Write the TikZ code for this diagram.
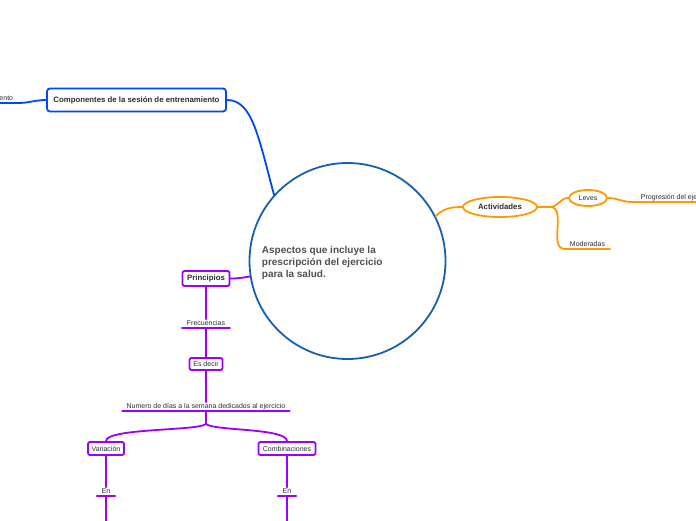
\documentclass[tikz,border=0pt]{standalone}
\usepackage{fontspec}
\setmainfont{Liberation Sans}
\usepackage{xcolor}
\usetikzlibrary{shapes.geometric}
\definecolor{azul}{RGB}{0,72,255}
\definecolor{azulc}{RGB}{22,96,176}
\definecolor{naranja}{RGB}{255,153,0}
\definecolor{morado}{RGB}{153,0,255}
\definecolor{texto}{RGB}{45,45,45}
\definecolor{gris}{RGB}{80,80,80}
\begin{document}
\begin{tikzpicture}[x=1pt,y=1pt,line cap=round,line width=1.8pt,text=texto,
  font=\fontsize{7}{8}\selectfont,
  caja/.style={draw,fill=white,rounded corners=2pt,inner sep=0pt},
  ovalo/.style={draw,fill=white,ellipse,inner sep=0pt},
  hoja/.style={inner xsep=4pt,inner ysep=0pt,text height=5.5pt,text depth=1.6pt},
  negrita/.style={font=\fontsize{7.8}{9}\selectfont\bfseries}]
\useasboundingbox (0,0) rectangle (696,520);
\clip (0,0) rectangle (696,520);
\node[circle,draw=azulc,fill=white,minimum size=196pt,inner sep=0pt] (centro) at (347.5,259) {};
\node[anchor=west,align=left,inner sep=0pt,text=gris,font=\fontsize{10}{12}\selectfont\bfseries] (titulo) at (261,257) {Aspectos que incluye la\\prescripción del ejercicio\\para la salud.};
\node[caja,draw=azul,negrita,rounded corners=3pt,minimum width=179pt,minimum height=23pt] (comp) at (136.5,420) {Componentes de la sesión de entrenamiento};
\node[hoja,anchor=south east] (ento) at (18,417) {ento};
\draw[azul] (comp.east) .. controls (252,420) and (258,385) .. (centro.138);
\draw[azul] (comp.west) to[out=180,in=0] (ento.south east) -- (ento.south west);
\node[ovalo,draw=naranja,negrita,minimum width=74pt,minimum height=20pt] (act) at (500,313) {Actividades};
\node[ovalo,draw=naranja,minimum width=38pt,minimum height=16pt] (lev) at (588,322) {Leves};
\node[hoja,anchor=south] (mod) at (587.5,271) {Moderadas};
\node[hoja,anchor=south west,inner xsep=8pt] (prog) at (632,318) {Progresión del eje};
\coordinate (actfork) at (550,313);
\draw[naranja] (centro.27) to[out=45,in=180] (act.west);
\draw[naranja] (act.east) -- (actfork) to[out=0,in=180] (lev.west);
\draw[naranja] (actfork) to[out=0,in=180] (mod.south west) -- (mod.south east);
\draw[naranja] (lev.east) to[out=0,in=180] (prog.south west) -- (prog.south east);
\node[caja,draw=morado,negrita,minimum width=47pt,minimum height=15pt] (pri) at (206,241.5) {Principios};
\node[hoja,anchor=south] (frec) at (206,192) {Frecuencias};
\node[caja,draw=morado,minimum width=33pt,minimum height=12pt] (esd) at (206,156) {Es decir};
\node[hoja,anchor=south,inner xsep=3.5pt] (num) at (206,109) {Numero de días a la semana dedicados al ejercicio};
\coordinate (numfork) at (206,96);
\node[caja,draw=morado,minimum width=36pt,minimum height=13pt] (var) at (106,71.5) {Variación};
\node[caja,draw=morado,minimum width=57pt,minimum height=13pt] (comb) at (287,71.5) {Combinaciones};
\node[hoja,anchor=south] (env) at (106,24) {En};
\node[hoja,anchor=south] (enc) at (287,24) {En};
\coordinate (finv) at (106,-4);
\coordinate (finc) at (287,-4);
\draw[morado] (pri.east) to[out=0,in=190] (centro.189);
\draw[morado] (pri.south) -- (frec.north);
\draw[morado] (frec.south west) -- (frec.south east);
\draw[morado] (frec.south) -- (esd.north);
\draw[morado] (esd.south) -- (num.north);
\draw[morado] (num.south west) -- (num.south east);
\draw[morado] (num.south) -- (numfork) .. controls (198,89) and (106,92) .. (var.north);
\draw[morado] (numfork) .. controls (214,89) and (287,92) .. (comb.north);
\draw[morado] (var.south) -- (env.north);
\draw[morado] (env.south west) -- (env.south east);
\draw[morado] (env.south) -- (finv);
\draw[morado] (comb.south) -- (enc.north);
\draw[morado] (enc.south west) -- (enc.south east);
\draw[morado] (enc.south) -- (finc);
\end{tikzpicture}
\end{document}
